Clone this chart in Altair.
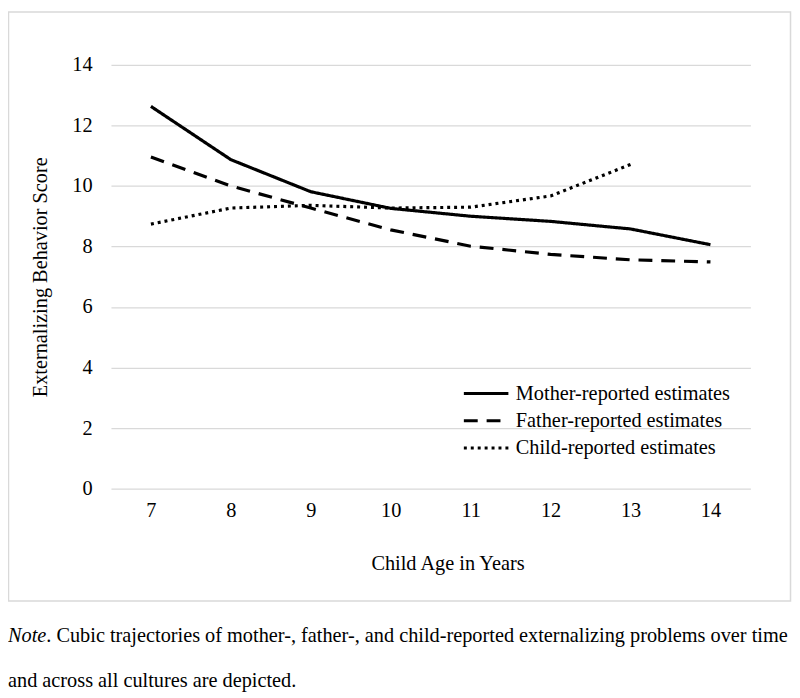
import altair as alt
import pandas as pd

FONT = "Liberation Serif"
FS = 20.5

ages = [7, 8, 9, 10, 11, 12, 13, 14]
mother = [12.63, 10.87, 9.81, 9.26, 9.00, 8.83, 8.58, 8.06]
father = [10.96, 10.00, 9.27, 8.55, 8.01, 7.74, 7.56, 7.49]
child_ages = [7, 8, 9, 10, 11, 12, 13]
child = [8.74, 9.27, 9.36, 9.27, 9.30, 9.67, 10.71]
series = ["Mother-reported estimates", "Father-reported estimates", "Child-reported estimates"]
y_ticks = [0, 2, 4, 6, 8, 10, 12, 14]
x_title = "Child Age in Years"
y_title = "Externalizing Behavior Score"
note_italic = "Note"
note_line1 = ". Cubic trajectories of mother-, father-, and child-reported externalizing problems over time"
note_line2 = "and across all cultures are depicted."

rows = []
for a, v in zip(ages, mother):
    rows.append({"age": a, "score": v, "series": series[0]})
for a, v in zip(ages, father):
    rows.append({"age": a, "score": v, "series": series[1]})
for a, v in zip(child_ages, child):
    rows.append({"age": a, "score": v, "series": series[2]})
df = pd.DataFrame(rows)

lines = alt.Chart(df).mark_line(strokeWidth=3.2, color="black", strokeCap="butt").encode(
    x=alt.X(
        "age:Q",
        scale=alt.Scale(domain=[6.5, 14.5], nice=False, zero=False),
        axis=alt.Axis(
            values=ages, grid=False, ticks=False, tickSize=0, domain=False,
            labelPadding=12, labelFontSize=FS, labelFont=FONT, labelColor="black",
            title=x_title, titleFont=FONT, titleFontSize=FS, titleFontWeight="normal",
            titleColor="black", titleX=340, titleY=76, titleBaseline="middle", titleAlign="center",
        ),
    ),
    y=alt.Y(
        "score:Q",
        scale=alt.Scale(domain=[0, 14], nice=False),
        axis=alt.Axis(
            values=y_ticks, grid=True, gridColor="#d9d9d9", gridWidth=1.2, ticks=False, tickSize=0,
            domain=False, labelPadding=19, labelFontSize=FS, labelFont=FONT, labelColor="black",
            title=y_title, titleFont=FONT, titleFontSize=FS, titleFontWeight="normal",
            titleColor="black", titleX=-71, titleY=214, titleAngle=-90,
            titleBaseline="middle", titleAlign="center",
        ),
    ),
    strokeDash=alt.StrokeDash(
        "series:N",
        scale=alt.Scale(domain=series, range=[[1, 0], [14, 9], [3, 4]]),
        legend=alt.Legend(
            title=None, orient="none", legendX=355, legendY=319,
            symbolType="stroke", symbolSize=2025, symbolStrokeWidth=3,
            symbolStrokeColor="black", labelFont=FONT, labelFontSize=FS,
            labelColor="black", rowPadding=1.5, clipHeight=26, labelOffset=6, padding=0,
            labelLimit=0,
        ),
    ),
)

box = alt.Chart(pd.DataFrame({"k": [0]})).mark_rect(
    fill="transparent", stroke="#d9d9d9", strokeWidth=1.5
).encode(
    x=alt.value(-103.5), x2=alt.value(686.5), y=alt.value(-53.5), y2=alt.value(541.5)
)

note_a = alt.Chart(pd.DataFrame({"t": [note_italic]})).mark_text(
    font=FONT, fontSize=FS, fontStyle="italic", align="left", baseline="alphabetic", color="black"
).encode(x=alt.value(-104), y=alt.value(583), text="t:N")

note_b = alt.Chart(pd.DataFrame({"t": [note_line1]})).mark_text(
    font=FONT, fontSize=FS, align="left", baseline="alphabetic", color="black"
).encode(x=alt.value(-65.3), y=alt.value(583), text="t:N")

note_c = alt.Chart(pd.DataFrame({"t": [note_line2]})).mark_text(
    font=FONT, fontSize=FS, align="left", baseline="alphabetic", color="black"
).encode(x=alt.value(-104), y=alt.value(628), text="t:N")

chart = alt.layer(box, lines, note_a, note_b, note_c).properties(
    width=646,
    height=428,
    padding={"left": 104, "top": 54, "right": 42, "bottom": 205},
    autosize=alt.AutoSizeParams(type="none"),
).configure_view(stroke=None)

chart.save("out.html", embed_options={"renderer": "svg", "actions": False})
